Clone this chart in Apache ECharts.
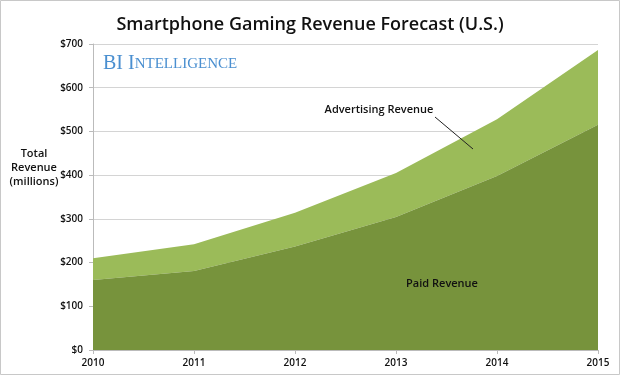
<!DOCTYPE html>
<html>
<head>
<meta charset="utf-8">
<script src="https://cdn.jsdelivr.net/npm/echarts@6/dist/echarts.min.js"></script>
<style>
  html, body { margin: 0; padding: 0; background: #fff; }
  #chart { width: 620px; height: 375px; }
</style>
</head>
<body>
<div id="chart"></div>
<script>
// datos (millones de USD)
const years = ['2010', '2011', '2012', '2013', '2014', '2015'];
const paidRevenue = [160, 181, 237, 304, 398, 515];
const adRevenue = [50, 61, 77, 101, 130, 171];
const yTicks = [0, 100, 200, 300, 400, 500, 600, 700];

const font = '"Open Sans", "Noto Sans", sans-serif';

const chart = echarts.init(document.getElementById('chart'));

chart.setOption({
  animation: false,
  backgroundColor: '#fff',
  title: {
    text: 'Smartphone Gaming Revenue Forecast (U.S.)',
    left: 'center',
    top: 11,
    textStyle: { fontFamily: font, fontSize: 18, fontWeight: 600, color: '#111' }
  },
  grid: { left: 93, right: 22, top: 44, bottom: 25 },
  xAxis: {
    type: 'category',
    data: years,
    boundaryGap: false,
    axisLine: { lineStyle: { color: '#bbb' } },
    axisTick: { show: true, lineStyle: { color: '#bbb' }, length: 4 },
    axisLabel: { fontFamily: font, fontSize: 10, fontWeight: 600, color: '#111', margin: 8 }
  },
  yAxis: {
    type: 'value',
    min: yTicks[0],
    max: yTicks[yTicks.length - 1],
    interval: 100,
    axisLine: { show: true, lineStyle: { color: '#bbb' } },
    axisTick: { show: true, lineStyle: { color: '#bbb' }, length: 4 },
    splitLine: { lineStyle: { color: '#d4d4d4', width: 1 } },
    axisLabel: {
      fontFamily: font, fontSize: 10, fontWeight: 600, color: '#111', margin: 10,
      formatter: v => '$' + v
    }
  },
  series: [
    {
      name: 'Paid Revenue',
      type: 'line',
      stack: 'total',
      data: paidRevenue,
      symbol: 'none',
      lineStyle: { width: 0 },
      areaStyle: { color: '#77933c', opacity: 1 },
      z: 3
    },
    {
      name: 'Advertising Revenue',
      type: 'line',
      stack: 'total',
      data: adRevenue,
      symbol: 'none',
      lineStyle: { width: 0 },
      areaStyle: { color: '#9bbb59', opacity: 1 },
      z: 2
    }
  ],
  graphic: [
    // marco gris alrededor de la imagen
    {
      type: 'rect',
      shape: { x: 0.5, y: 0.5, width: 619, height: 374 },
      style: { fill: 'none', stroke: '#c8c8c8', lineWidth: 1 },
      z: 100
    },
    // eje Y: nombre en tres líneas
    {
      type: 'text',
      x: 34, y: 147,
      style: {
        text: 'Total\nRevenue\n(millions)',
        fontFamily: font, fontSize: 11, fontWeight: 600, fill: '#111',
        align: 'center', lineHeight: 14
      }
    },
    // logo
    {
      type: 'text',
      x: 103, y: 54,
      style: {
        text: '{a|BI I}{b|NTELLIGENCE}',
        rich: {
          a: { fontFamily: '"Liberation Serif", serif', fontSize: 20, fill: '#4a8fd0' },
          b: { fontFamily: '"Liberation Serif", serif', fontSize: 15, fill: '#4a8fd0' }
        }
      },
      z: 10
    },
    // etiquetas de las áreas
    {
      type: 'text',
      x: 379, y: 110,
      style: {
        text: 'Advertising Revenue',
        fontFamily: font, fontSize: 11, fontWeight: 600, fill: '#111',
        align: 'center', verticalAlign: 'middle'
      },
      z: 10
    },
    {
      type: 'line',
      shape: { x1: 435, y1: 117, x2: 473, y2: 149 },
      style: { stroke: '#222', lineWidth: 1 },
      z: 10
    },
    {
      type: 'text',
      x: 442, y: 284,
      style: {
        text: 'Paid Revenue',
        fontFamily: font, fontSize: 11, fontWeight: 600, fill: '#111',
        align: 'center', verticalAlign: 'middle'
      },
      z: 10
    }
  ]
});

window.addEventListener('resize', () => chart.resize());
</script>
</body>
</html>
